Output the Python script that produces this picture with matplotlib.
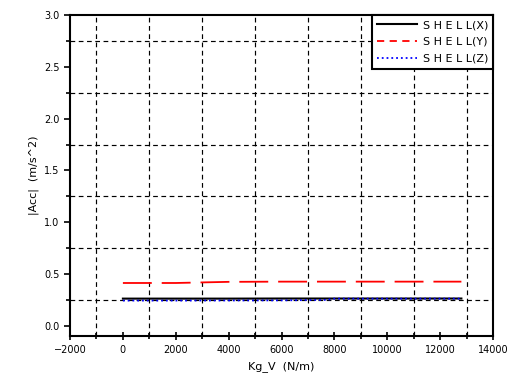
import numpy as np
import matplotlib
matplotlib.use('Agg')
import matplotlib.pyplot as plt
from matplotlib.ticker import MultipleLocator, FormatStrFormatter

# values
kg_v = [0, 2000, 4000, 6000, 7700, 8000, 10000, 12800]
shell_x = [0.262, 0.262, 0.262, 0.263, 0.263, 0.263, 0.263, 0.263]
shell_y = [0.413, 0.413, 0.424, 0.426, 0.426, 0.426, 0.426, 0.426]
shell_z = [0.243, 0.243, 0.244, 0.245, 0.250, 0.262, 0.262, 0.262]

fig = plt.figure(figsize=(5.11, 3.89), dpi=100)
ax = fig.add_axes([0.137, 0.136, 0.828, 0.825])

ax.plot(kg_v, shell_x, '-', color='black', lw=1.5, label='S H E L L(X)')
ax.plot(kg_v, shell_y, '--', color='red', lw=1.3, dashes=(16, 5.5), label='S H E L L(Y)')
ax.plot(kg_v, shell_z, ':', color='blue', lw=1.3, label='S H E L L(Z)')

ax.set_xlim(-2000, 14000)
ax.set_ylim(-0.1, 3.0)
ax.xaxis.set_major_locator(MultipleLocator(2000))
ax.xaxis.set_minor_locator(MultipleLocator(1000))
ax.yaxis.set_major_locator(MultipleLocator(0.5))
ax.yaxis.set_minor_locator(MultipleLocator(0.25))
ax.yaxis.set_major_formatter(FormatStrFormatter('%.1f'))

# grid sits on the minor ticks only
ax.grid(which='minor', color='black', linestyle=(0, (4, 3)), lw=0.85)
ax.grid(which='major', visible=False)

ax.tick_params(which='both', labelsize=7, width=1.2)
ax.tick_params(axis='x', which='major', direction='inout', length=6)
ax.tick_params(axis='x', which='minor', direction='inout', length=5)
ax.tick_params(axis='y', which='major', direction='out', length=4)
ax.tick_params(axis='y', which='minor', direction='out', length=3)

for s in ax.spines.values():
    s.set_linewidth(1.5)

ax.set_xlabel('Kg_V  (N/m)', fontsize=8)
ax.set_ylabel('|Acc|  (m/s^2)', fontsize=8)

leg = ax.legend(loc='upper right', fontsize=8, fancybox=False, framealpha=1,
                edgecolor='black', borderaxespad=0, handlelength=3.6,
                borderpad=0.45, labelspacing=0.6, handletextpad=0.5)
leg.get_frame().set_linewidth(1.5)
for h in leg.get_lines()[1:2]:
    h.set_dashes((4, 3))

fig.savefig('out.png', dpi=100)
